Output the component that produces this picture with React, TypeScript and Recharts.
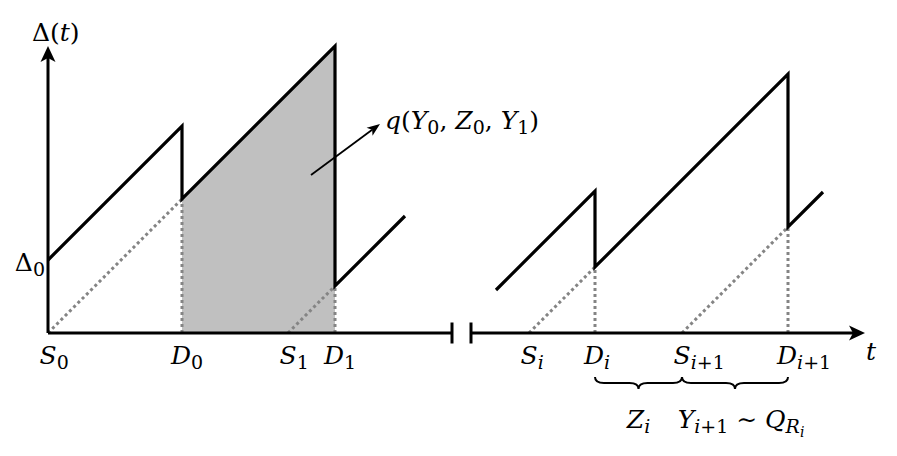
import React from "react"
import { ComposedChart, Line, Area, XAxis, YAxis, ReferenceLine, ReferenceDot } from "recharts"

// event times (S = sent, D = delivered), in time units
const tickTimes = [0, 13.4, 24.0, 28.7, 48.1, 54.7, 63.4, 74.0]
const tickLetters = ["S", "D", "S", "D", "S", "D", "S", "D"]
const tickSubs = ["0", "0", "1", "1", "i", "i", "i+1", "i+1"]

// age curve, left part (S0 .. D1) and right part (around Di, Di+1)
const leftT = [0, 13.4, 13.4, 28.7, 28.7, 35.7]
const leftAge = [7.3, 20.7, 13.4, 28.7, 4.7, 11.7]
const rightT = [44.8, 54.7, 54.7, 74.0, 74.0, 77.5]
const rightAge = [4.3, 14.2, 6.6, 25.9, 10.6, 14.1]

// shaded area between D0 and D1
const shadeT = [13.4, 28.7]
const shadeAge = [13.4, 28.7]

// dotted guides: from send time up to the age at delivery
const sendT = [0, 24.0, 48.1, 63.4]
const dropT = [13.4, 28.7, 54.7, 74.0]
const dropAge = [13.4, 4.7, 6.6, 10.6]

const delta0 = 7.3
const xMax = 84.9
const yMax = 33.3
const xAxisEnd = 81.7
const yAxisEnd = 28.7
const gapAt = [40.4, 42.3]

const FONT = "DejaVu Serif"
const SIZES = [25, 19, 14]
const SHIFT = [0, 5, 9]

type Part = [string, number]

function MathText({ x, y, parts, anchor = "start" }: { x: number; y: number; parts: Part[]; anchor?: string }) {
  let cur = 0
  const spans: React.ReactNode[] = []
  parts.forEach(([s, lvl], i) => {
    s.split(/([A-Za-z]+)/).filter(Boolean).forEach((c, j) => {
      const dy = SHIFT[lvl] - cur
      cur = SHIFT[lvl]
      spans.push(
        <tspan key={i + "-" + j} dy={dy} fontSize={SIZES[lvl]} fontStyle={/[A-Za-z]/.test(c) ? "italic" : "normal"}>
          {c}
        </tspan>
      )
    })
  })
  return (
    <text x={x} y={y} textAnchor={anchor} fill="#000" style={{ whiteSpace: "pre", fontFamily: FONT, fontWeight: 300 }}>
      {spans}
    </text>
  )
}

const arrowLine = (w: number, len: number, half: number) => (p: any) => {
  const { x1, y1, x2, y2 } = p
  const a = Math.atan2(y2 - y1, x2 - x1)
  const dx = Math.cos(a), dy = Math.sin(a)
  const nx = x2 - dx * len * 0.75, ny = y2 - dy * len * 0.75
  const bx = x2 - dx * len, by = y2 - dy * len
  const pts = [
    [x2, y2],
    [bx - dy * half, by + dx * half],
    [nx, ny],
    [bx + dy * half, by - dx * half],
  ]
  return (
    <g>
      <line x1={x1} y1={y1} x2={nx} y2={ny} stroke="#000" strokeWidth={w} />
      <polygon points={pts.map((q) => q.join(",")).join(" ")} fill="#000" />
    </g>
  )
}

const brace = (p: any) => {
  const { x1, y1, x2 } = p
  const m = (x1 + x2) / 2
  const r = 6
  const d = `M${x1},${y1} Q${x1},${y1 + r} ${x1 + 9},${y1 + r} L${m - 9},${y1 + r} Q${m},${y1 + r} ${m},${y1 + 2 * r}
    Q${m},${y1 + r} ${m + 9},${y1 + r} L${x2 - 9},${y1 + r} Q${x2},${y1 + r} ${x2},${y1}`
  return <path d={d} fill="none" stroke="#000" strokeWidth={2} />
}

const rows = (ts: number[], as: number[]) => ts.map((t, i) => ({ t, a: as[i] }))

const LETTER_W: Record<string, number> = { S: 17, D: 22 }

export default function App() {
  const dotted = { stroke: "#848484", strokeWidth: 3, strokeDasharray: "3 3" }
  return (
    <div style={{ position: "absolute", left: 0, top: 0, width: 897, height: 456, background: "#fff" }}>
      <ComposedChart width={897} height={456} margin={{ top: 0, right: 0, bottom: 123, left: 48 }}>
        <XAxis type="number" dataKey="t" domain={[0, xMax]} hide allowDataOverflow />
        <YAxis type="number" domain={[0, yMax]} hide allowDataOverflow />

        <Area
          data={rows(shadeT, shadeAge)}
          dataKey="a"
          type="linear"
          fill="#c0c0c0"
          fillOpacity={1}
          stroke="none"
          baseValue={0}
          isAnimationActive={false}
          dot={false}
          activeDot={false}
        />

        {sendT.map((s, k) => (
          <Line
            key={"diag" + k}
            data={rows([s, dropT[k]], [0, dropAge[k]])}
            dataKey="a"
            type="linear"
            {...dotted}
            dot={false}
            activeDot={false}
            isAnimationActive={false}
          />
        ))}
        {dropT.map((d, k) => (
          <Line
            key={"drop" + k}
            data={rows([d, d], [0, dropAge[k]])}
            dataKey="a"
            type="linear"
            {...dotted}
            dot={false}
            activeDot={false}
            isAnimationActive={false}
          />
        ))}

        <Line data={rows(leftT, leftAge)} dataKey="a" type="linear" stroke="#000" strokeWidth={3.2}
          dot={false} activeDot={false} isAnimationActive={false} />
        <Line data={rows(rightT, rightAge)} dataKey="a" type="linear" stroke="#000" strokeWidth={3.2}
          dot={false} activeDot={false} isAnimationActive={false} />

        {/* axes */}
        <ReferenceLine segment={[{ x: 0, y: 0 }, { x: 0, y: yAxisEnd }]} ifOverflow="visible" shape={arrowLine(3, 16, 7.5)} />
        <ReferenceLine segment={[{ x: 0, y: 0 }, { x: gapAt[0], y: 0 }]} ifOverflow="visible" stroke="#000" strokeWidth={3} />
        <ReferenceLine segment={[{ x: gapAt[1], y: 0 }, { x: xAxisEnd, y: 0 }]} ifOverflow="visible" shape={arrowLine(3, 16, 7.5)} />
        {gapAt.map((g) => (
          <ReferenceLine key={"gap" + g} segment={[{ x: g, y: -1.05 }, { x: g, y: 1.05 }]} ifOverflow="visible" stroke="#000" strokeWidth={3} />
        ))}

        {/* annotation arrow to q(...) */}
        <ReferenceLine segment={[{ x: 26.3, y: 15.8 }, { x: 33.2, y: 20.9 }]} ifOverflow="visible" shape={arrowLine(1.8, 13, 5)} />
        <ReferenceDot x={33.2} y={20.9} ifOverflow="visible"
          shape={(p: any) => (
            <MathText x={p.cx + 5} y={p.cy + 5}
              parts={[["q(Y", 0], ["0", 1], [", Z", 0], ["0", 1], [", Y", 0], ["1", 1], [")", 0]]} />
          )} />

        {/* braces */}
        <ReferenceLine segment={[{ x: tickTimes[5], y: -4.4 }, { x: tickTimes[6], y: -4.4 }]} ifOverflow="visible" shape={brace} />
        <ReferenceLine segment={[{ x: tickTimes[6], y: -4.4 }, { x: tickTimes[7], y: -4.4 }]} ifOverflow="visible" shape={brace} />
        <ReferenceDot x={(tickTimes[5] + tickTimes[6]) / 2} y={0} ifOverflow="visible"
          shape={(p: any) => <MathText x={p.cx} y={p.cy + 95} anchor="middle" parts={[["Z", 0], ["i", 1]]} />} />
        <ReferenceDot x={(tickTimes[6] + tickTimes[7]) / 2} y={0} ifOverflow="visible"
          shape={(p: any) => (
            <MathText x={p.cx + 6} y={p.cy + 95} anchor="middle"
              parts={[["Y", 0], ["i+1", 1], [" \u223C Q", 0], ["R", 1], ["i", 2]]} />
          )} />

        {/* tick labels */}
        {tickTimes.map((t, k) => (
          <ReferenceDot key={"tick" + k} x={t} y={0} ifOverflow="visible"
            shape={(p: any) => (
              <MathText x={p.cx - LETTER_W[tickLetters[k]] / 2} y={p.cy + 31}
                parts={[[tickLetters[k], 0], [tickSubs[k], 1]]} />
            )} />
        ))}

        {/* axis labels */}
        <ReferenceDot x={0} y={yAxisEnd} ifOverflow="visible"
          shape={(p: any) => <MathText x={p.cx - 16} y={p.cy - 5} parts={[["\u0394(t)", 0]]} />} />
        <ReferenceDot x={0} y={delta0} ifOverflow="visible"
          shape={(p: any) => <MathText x={p.cx - 3} y={p.cy + 11} anchor="end" parts={[["\u0394", 0], ["0", 1]]} />} />
        <ReferenceDot x={xAxisEnd} y={0} ifOverflow="visible"
          shape={(p: any) => <MathText x={p.cx + 1} y={p.cy + 27} parts={[["t", 0]]} />} />
      </ComposedChart>
    </div>
  )
}
